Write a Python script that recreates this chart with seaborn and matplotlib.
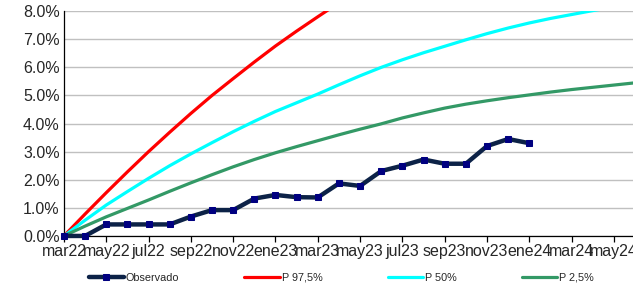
import numpy as np
import pandas as pd
import matplotlib
matplotlib.use("Agg")
import matplotlib.pyplot as plt
import seaborn as sns

months = ["mar22", "abr22", "may22", "jun22", "jul22", "ago22", "sep22", "oct22",
          "nov22", "dic22", "ene23", "feb23", "mar23", "abr23", "may23", "jun23",
          "jul23", "ago23", "sep23", "oct23", "nov23", "dic23", "ene24", "feb24",
          "mar24", "abr24", "may24", "jun24"]

observado = [0.00, 0.00, 0.41, 0.41, 0.41, 0.41, 0.69, 0.92, 0.92, 1.33, 1.46, 1.38,
             1.37, 1.87, 1.78, 2.31, 2.50, 2.72, 2.57, 2.57, 3.20, 3.45, 3.30]
p975 = [0.00, 0.78, 1.54, 2.28, 3.00, 3.69, 4.36, 5.00, 5.60, 6.19, 6.76, 7.29,
        7.80, 8.30, 8.75]
p50 = [0.00, 0.56, 1.10, 1.58, 2.05, 2.50, 2.92, 3.32, 3.71, 4.08, 4.43, 4.74,
       5.05, 5.38, 5.70, 6.00, 6.27, 6.52, 6.75, 6.98, 7.20, 7.40, 7.58, 7.74,
       7.88, 8.02, 8.15, 8.27]
p25 = [0.00, 0.35, 0.68, 0.98, 1.28, 1.59, 1.89, 2.18, 2.46, 2.72, 2.96, 3.18,
       3.39, 3.60, 3.80, 3.99, 4.20, 4.38, 4.55, 4.69, 4.81, 4.92, 5.02, 5.12,
       5.21, 5.29, 5.37, 5.45]

tick_pos = list(range(0, 27, 2))
tick_labels = months[0:27:2]

sns.set_theme(style="white")
plt.rcParams['font.family'] = ['Liberation Sans', 'DejaVu Sans']

fig = plt.figure(figsize=(6.33, 2.86), dpi=100)
ax = fig.add_axes([0.101, 0.175, 0.899, 0.786])

def frame(vals):
    return pd.DataFrame({"t": np.arange(len(vals)), "v": vals})

sns.lineplot(data=frame(p975), x="t", y="v", ax=ax, color="#ff0000", lw=2.3,
             label="P 97,5%", zorder=3)
sns.lineplot(data=frame(p50), x="t", y="v", ax=ax, color="#00ffff", lw=2.3,
             label="P 50%", zorder=3)
sns.lineplot(data=frame(p25), x="t", y="v", ax=ax, color="#339966", lw=2.3,
             label="P 2,5%", zorder=3)
sns.lineplot(data=frame(observado), x="t", y="v", ax=ax, color="#0c2247", lw=3.2,
             marker="s", markersize=4.2, markerfacecolor="#000080",
             markeredgecolor="#000080", label="Observado", zorder=5, clip_on=False)

ax.set_xlim(0, 26.9)
ax.set_ylim(0, 8)
ax.set_yticks(range(0, 9))
ax.set_yticklabels([f"{v:.1f}%" for v in range(0, 9)])
ax.set_xticks(tick_pos)
ax.set_xticklabels(tick_labels)
ax.set_xlabel("")
ax.set_ylabel("")
ax.grid(axis="y", color="#c0c0c0", lw=1.0)
ax.grid(axis="x", visible=False)
for s in ["top", "right"]:
    ax.spines[s].set_visible(False)
for s in ["left", "bottom"]:
    ax.spines[s].set_color("black")
    ax.spines[s].set_linewidth(0.9)
ax.tick_params(axis="both", which="both", direction="out", length=4, width=0.9,
               color="black", labelsize=11.5, pad=2, bottom=True, left=True)
ax.tick_params(axis="y", length=0, pad=3)

handles, labels = ax.get_legend_handles_labels()
order = [labels.index(l) for l in ["Observado", "P 97,5%", "P 50%", "P 2,5%"]]
ax.legend_.remove()
fig.legend([handles[i] for i in order], [labels[i] for i in order],
           loc="center", bbox_to_anchor=(0.539, 0.028), ncol=4, frameon=False,
           fontsize=7.8, handlelength=3.3, handletextpad=0.15, columnspacing=6.0,
           borderaxespad=0, borderpad=0)

fig.savefig("out.png", dpi=100)
